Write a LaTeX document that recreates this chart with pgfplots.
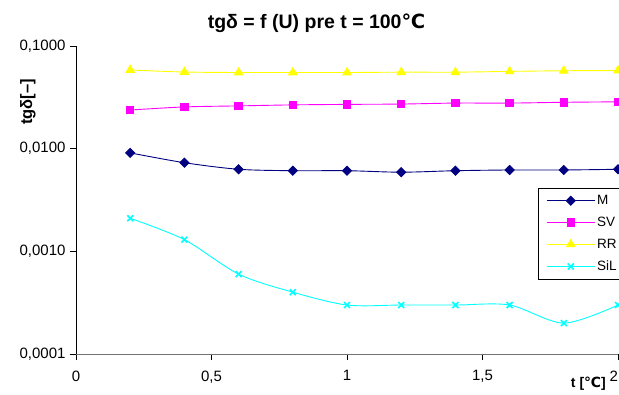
\documentclass[border=0pt]{standalone}
\usepackage{pgfplots}
\pgfplotsset{compat=1.18}
\usepackage{fontspec}
\setmainfont{Liberation Sans}
\newfontfamily\dejavu{DejaVu Sans}
\newcommand{\degC}{{\dejavu ℃}}
\definecolor{cM}{RGB}{0,0,128}
\definecolor{cSV}{RGB}{255,0,255}
\definecolor{cRR}{RGB}{255,255,0}
\definecolor{cSiL}{RGB}{0,255,255}
\begin{document}
\begin{tikzpicture}[x=1pt,y=1pt]
\useasboundingbox (0,0) rectangle (619,394);
\clip (0,0) rectangle (619,394);
\begin{axis}[
  at={(76pt,40pt)}, anchor=south west,
  scale only axis, width=542pt, height=308pt,
  ymode=log, xmin=0, xmax=2, ymin=1e-4, ymax=0.1,
  axis x line=bottom, axis y line=left,
  axis line style={-},
  x axis line style={draw=black!55},
  y axis line style={draw=black},
  xtick={0,0.5,1,1.5,2}, xticklabels={0,{0,5},1,{1,5},{\makebox[0pt][r]{2}}},
  ytick={1e-4,1e-3,1e-2,1e-1},
  yticklabels={{0,0001},{0,0010},{0,0100},{0,1000}},
  yminorticks=false, xminorticks=false,
  tick align=outside, major tick length=6pt,
  tick style={black, line width=0.6pt},
  tick label style={font=\fontsize{15}{17}\selectfont},
  xticklabel style={yshift=-7pt},
  yticklabel style={xshift=-1pt},
  ylabel={\textbf{tgδ[–]}},
  ylabel style={at={(axis description cs:-0.0886,0.818)}, anchor=center, font=\fontsize{16.5}{18}\selectfont},
  clip=false,
  legend style={at={(axis description cs:0.8524,0.539)}, anchor=north west,
    draw=black, line width=0.6pt, font=\fontsize{13.5}{15}\selectfont,
    row sep=7pt, inner xsep=8pt, inner ysep=5pt, cells={anchor=west, text width=30pt}},
  legend image code/.code={%
    \draw[mark repeat=2,mark phase=2] plot coordinates {(0pt,0pt)(24pt,0pt)(48pt,0pt)};},
  every axis plot/.append style={line width=0.9pt, smooth, tension=0.5},
]
\addplot[color=cM, mark=square*, mark size=3.2pt, mark options={rotate=45, fill=cM}] coordinates {
(0.2,0.0091)(0.4,0.0073)(0.6,0.0063)(0.8,0.0061)(1.0,0.0061)(1.2,0.0059)(1.4,0.0061)(1.6,0.0062)(1.8,0.0062)(2.0,0.0063)};
\addlegendentry{M}
\addplot[color=cSV, mark=square*, mark size=3.7pt, mark options={fill=cSV}] coordinates {
(0.2,0.0238)(0.4,0.0255)(0.6,0.0261)(0.8,0.0267)(1.0,0.0270)(1.2,0.0272)(1.4,0.0278)(1.6,0.0278)(1.8,0.0283)(2.0,0.0286)};
\addlegendentry{SV}
\addplot[color=cRR, mark=triangle*, mark size=4.8pt, mark options={fill=cRR}] coordinates {
(0.2,0.0584)(0.4,0.0558)(0.6,0.0552)(0.8,0.0552)(1.0,0.0552)(1.2,0.0556)(1.4,0.0556)(1.6,0.0566)(1.8,0.0574)(2.0,0.0577)};
\addlegendentry{RR}
\addplot[color=cSiL, mark=x, mark size=4.2pt, mark options={line width=1.6pt}] coordinates {
(0.2,0.0021)(0.4,0.0013)(0.6,0.0006)(0.8,0.0004)(1.0,0.0003)(1.2,0.0003)(1.4,0.0003)(1.6,0.0003)(1.8,0.0002)(2.0,0.0003)};
\addlegendentry{SiL}
\end{axis}
\node[font=\bfseries\fontsize{19.5}{21}\selectfont, anchor=base] at (316.5,365) {tgδ = f (U) pre t = 100\degC};
\node[font=\bfseries\fontsize{14}{16}\selectfont, anchor=base east, fill=white, inner sep=1pt] at (607,6) {t [\degC]};
\end{tikzpicture}
\end{document}
